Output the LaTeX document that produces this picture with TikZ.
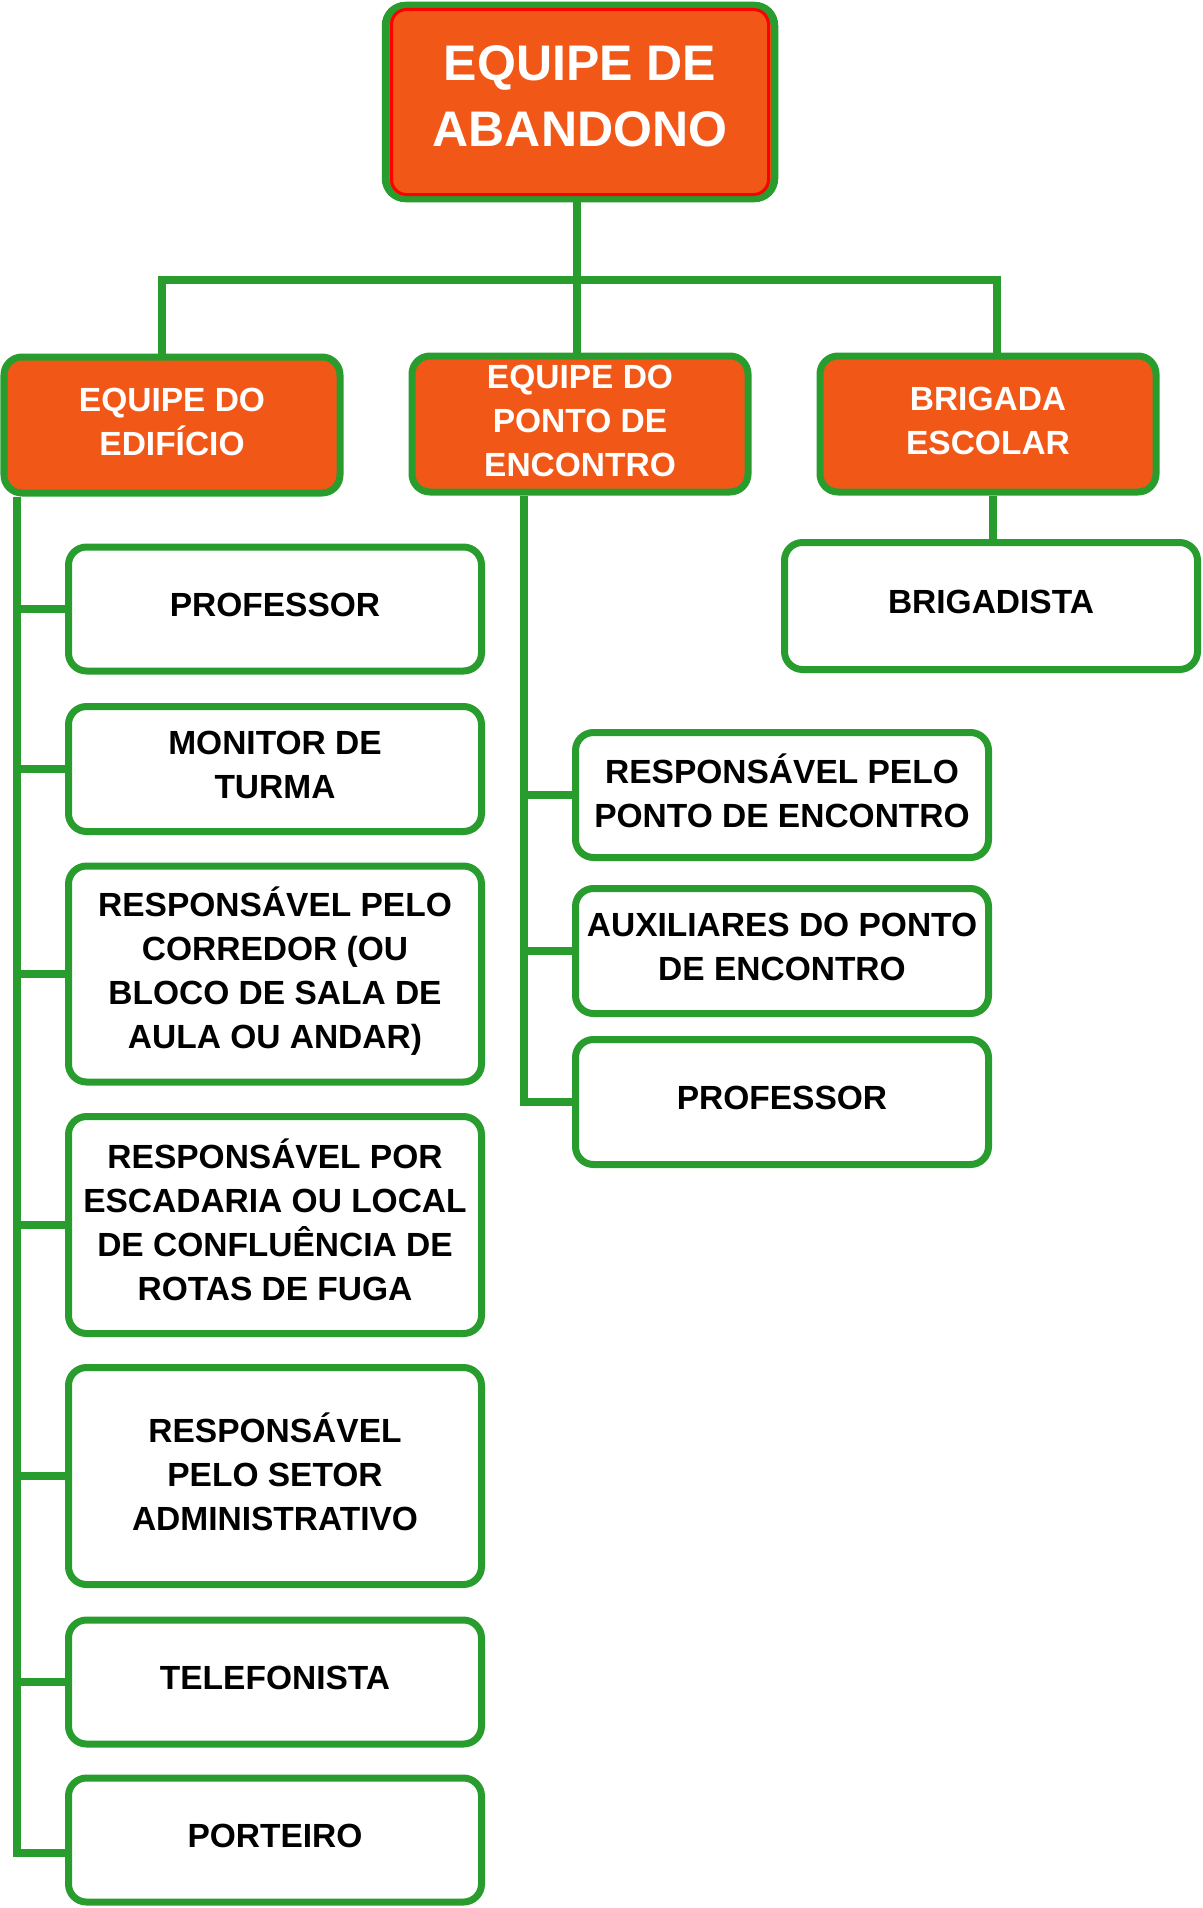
\documentclass[tikz,border=0pt]{standalone}
\usepackage{fontspec}
\setmainfont{Liberation Sans}
\usetikzlibrary{positioning}

\begin{document}
\begin{tikzpicture}[
    x=1pt,
    y=-1pt,
    chefe/.style={
        draw=verde,
        fill=laranja,
        line width=7.5pt,
        rounded corners=20pt,
        minimum width=389pt,
        minimum height=193pt,
        text depth=12pt,
        text=white,
        align=center,
        anchor=center,
        font=\fontsize{50}{66}\selectfont\bfseries
    },
    equipe/.style={
        draw=verde,
        fill=laranja,
        line width=7pt,
        rounded corners=18pt,
        minimum width=336pt,
        minimum height=136pt,
        text depth=7pt,
        text=white,
        align=center,
        anchor=center,
        font=\fontsize{33.5}{44}\selectfont\bfseries
    },
    funcao/.style={
        draw=verde,
        fill=white,
        line width=7pt,
        rounded corners=18pt,
        minimum width=413pt,
        text depth=8pt,
        align=center,
        anchor=center,
        font=\fontsize{33.5}{44}\selectfont\bfseries
    },
    ligacao/.style={
        draw=verde,
        line width=7.5pt
    }]
    \definecolor{laranja}{RGB}{241, 88, 23}
    \definecolor{verde}{RGB}{41, 156, 46}
    \definecolor{vermelho}{RGB}{255, 0, 0}

    \useasboundingbox (0,0) rectangle (1202,1908);

    \node[chefe] (abandono) at (580,102) {EQUIPE DE\\ABANDONO};
    \node[draw=vermelho, line width=3pt, rounded corners=15pt, minimum width=377pt, minimum height=185pt] (abandonoborda) at (abandono) {};

    \node[equipe] (edificio) at (172,425) {EQUIPE DO\\EDIFÍCIO};
    \node[equipe] (ponto) at (580,424) {EQUIPE DO\\PONTO DE\\ENCONTRO};
    \node[equipe] (brigada) at (988,424) {BRIGADA\\ESCOLAR};

    \node[funcao, minimum height=124pt] (professor) at (275,609) {PROFESSOR};
    \node[funcao, minimum height=125pt] (monitor) at (275,769) {MONITOR DE\\TURMA};
    \node[funcao, minimum height=216pt, text depth=12pt] (corredor) at (275,974) {RESPONSÁVEL PELO\\CORREDOR (OU\\BLOCO DE SALA DE\\AULA OU ANDAR)};
    \node[funcao, minimum height=217pt, text depth=10pt] (escadaria) at (275,1225) {RESPONSÁVEL POR\\ESCADARIA OU LOCAL\\DE CONFLUÊNCIA DE\\ROTAS DE FUGA};
    \node[funcao, minimum height=217pt] (setor) at (275,1476) {RESPONSÁVEL\\PELO SETOR\\ADMINISTRATIVO};
    \node[funcao, minimum height=124pt] (telefonista) at (275,1682) {TELEFONISTA};
    \node[funcao, minimum height=124pt] (porteiro) at (275,1840) {PORTEIRO};

    \node[funcao, minimum height=125pt] (responsavel) at (782,795) {RESPONSÁVEL PELO\\PONTO DE ENCONTRO};
    \node[funcao, minimum height=125pt] (auxiliares) at (782,951) {AUXILIARES DO PONTO\\DE ENCONTRO};
    \node[funcao, minimum height=125pt] (professorb) at (782,1102) {PROFESSOR};

    \node[funcao, minimum height=127pt] (brigadista) at (991,606) {BRIGADISTA};

    \coordinate (barra) at (577,280);
    \coordinate (tronco) at ([xshift=16.5pt]edificio.south west);
    \coordinate (troncob) at ([xshift=115.5pt]ponto.south west);

    \draw[ligacao] ([xshift=-3pt]abandono.south) -- ([xshift=-3pt]ponto.north);
    \draw[ligacao] ([xshift=-10pt]edificio.north) |- (barra) -| ([xshift=9pt]brigada.north);
    \draw[ligacao] ([xshift=2pt]brigadista.north) -- ([xshift=2pt]brigadista.north |- brigada.south);

    \foreach \f in {professor, monitor, corredor, escadaria, setor, telefonista}
        \draw[ligacao] (tronco) |- (\f.west);
    \draw[ligacao] (tronco) |- ([yshift=-13pt]porteiro.west);

    \foreach \f in {responsavel, auxiliares, professorb}
        \draw[ligacao] (troncob) |- (\f.west);

\end{tikzpicture}
\end{document}
